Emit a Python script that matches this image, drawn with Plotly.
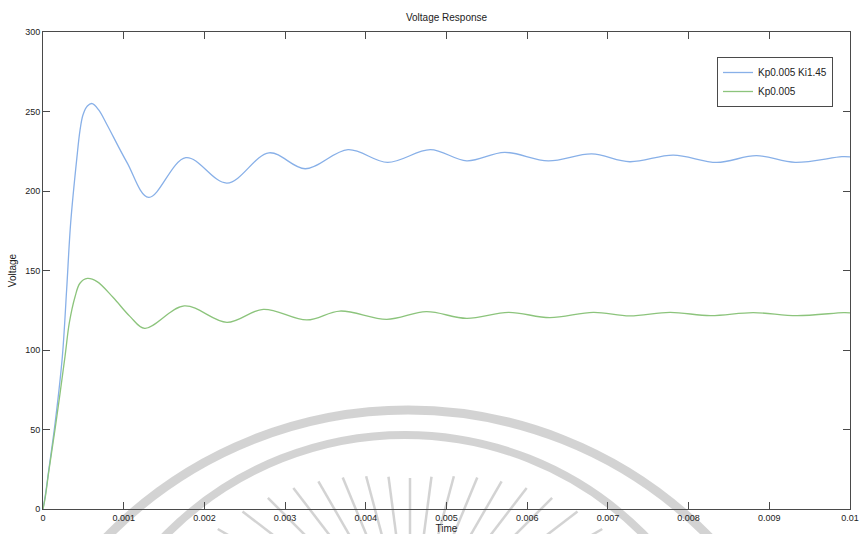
import math
import plotly.graph_objects as go

# ---- data -------------------------------------------------------------
time_pi = [0, 0.00003, 0.00007, 0.00015, 0.00024, 0.000293, 0.000343, 0.00042,
           0.000458, 0.000496, 0.00055, 0.00061, 0.00069, 0.00079,
           0.00104, 0.00131, 0.00177, 0.00228, 0.0028, 0.00325, 0.00378, 0.00427,
           0.0048, 0.00525, 0.00572, 0.00626, 0.0068, 0.00727, 0.00781, 0.00835,
           0.00884, 0.00932, 0.0099, 0.01]
volt_pi = [0, 9, 24, 54, 96, 138, 180, 221,
           238, 248, 253.5, 255, 251, 242,
           218, 196, 221, 205, 224, 214, 226, 218,
           226, 219, 224.3, 218.9, 223.3, 218.4, 222.6, 218,
           222.2, 218, 221.6, 221.5]

time_p = [0, 0.00003, 0.00007, 0.00016, 0.000273, 0.000326, 0.000397, 0.000458,
          0.00055, 0.00067, 0.00087, 0.00108, 0.00126, 0.00175, 0.00228,
          0.00273, 0.00327, 0.00368, 0.00426, 0.00475, 0.00525, 0.00577, 0.00628,
          0.00682, 0.00727, 0.00777, 0.00827, 0.0088, 0.00934, 0.00992, 0.01]
volt_p = [0, 8, 23, 54, 96, 117, 133.5, 142,
          145, 143, 133, 121, 113.6, 127.7, 117.4,
          125.6, 118.9, 124.5, 119.3, 124.1, 119.9, 123.7, 120.3,
          123.7, 121.4, 123.7, 121.6, 123.5, 121.6, 123.5, 123.4]

series_names = ["Kp0.005 Ki1.45", "Kp0.005"]

x_ticks = [0, 0.001, 0.002, 0.003, 0.004, 0.005, 0.006, 0.007, 0.008, 0.009, 0.01]
x_tick_text = ["0", "0.001", "0.002", "0.003", "0.004", "0.005", "0.006",
               "0.007", "0.008", "0.009", "0.01"]
y_ticks = [0, 50, 100, 150, 200, 250, 300]
y_tick_text = ["0", "50", "100", "150", "200", "250", "300"]

# ---- figure geometry --------------------------------------------------
W, H = 859, 534
ML, MR, MT, MB = 43, 9, 32, 25
PW, PH = W - ML - MR, H - MT - MB
FONT = "Liberation Sans, Arial, sans-serif"


def px_x(px):
    return (px - ML) / PW


def px_y(py):
    return (H - MB - py) / PH


fig = go.Figure()
fig.add_trace(go.Scatter(x=time_pi, y=volt_pi, mode="lines", name=series_names[0],
                         line=dict(color="#88b0e8", width=1.3, shape="spline")))
fig.add_trace(go.Scatter(x=time_p, y=volt_p, mode="lines", name=series_names[1],
                         line=dict(color="#8cc47c", width=1.3, shape="spline")))

# faint printed emblem behind the axes: two arcs and a fan of rays
shapes = []
wm = "rgba(200,200,200,0.8)"
for (cx, cy, r, w) in [(408, 831, 421, 9), (405, 771, 336, 8)]:
    shapes.append(dict(type="circle", xref="paper", yref="paper", layer="below",
                       x0=px_x(cx - r), x1=px_x(cx + r),
                       y0=px_y(cy + r), y1=px_y(cy - r),
                       line=dict(color=wm, width=w), fillcolor="rgba(0,0,0,0)"))
rcx, rcy = 410, 640
for k in range(-8, 9):
    ang = math.radians(7.5 * k)
    r_out = 162 + 60 * (abs(7.5 * k) / 60) ** 1.5
    r_in = 60
    shapes.append(dict(type="line", xref="paper", yref="paper", layer="below",
                       x0=px_x(rcx + r_out * math.sin(ang)), y0=px_y(rcy - r_out * math.cos(ang)),
                       x1=px_x(rcx + r_in * math.sin(ang)), y1=px_y(rcy - r_in * math.cos(ang)),
                       line=dict(color=wm, width=2.5)))

axis_common = dict(showgrid=False, zeroline=False, showline=True, linecolor="#4a4a4a",
                   linewidth=1, mirror="ticks", ticks="inside", ticklen=7,
                   tickcolor="#4a4a4a", tickwidth=1, automargin=False,
                   tickfont=dict(family=FONT, size=9, color="#222"))

fig.update_layout(
    width=W, height=H,
    margin=dict(l=ML, r=MR, t=MT, b=MB),
    paper_bgcolor="white", plot_bgcolor="rgba(0,0,0,0)",
    title=dict(text="Voltage Response", x=px_x(446.5), xref="paper", xanchor="center",
               y=1 - 17 / H, yanchor="middle",
               font=dict(family=FONT, size=10, color="#222")),
    xaxis=dict(range=[0, 0.01], tickvals=x_ticks, ticktext=x_tick_text,
               title=dict(text="Time", standoff=6, font=dict(family=FONT, size=10, color="#222")),
               **axis_common),
    yaxis=dict(range=[0, 300], tickvals=y_ticks, ticktext=y_tick_text,
               title=dict(text="Voltage", standoff=6, font=dict(family=FONT, size=10, color="#222")),
               **axis_common),
    legend=dict(x=px_x(717), y=px_y(57), xanchor="left", yanchor="top",
                bgcolor="white", bordercolor="#4a4a4a", borderwidth=1,
                font=dict(family=FONT, size=10, color="#222"),
                itemwidth=30, tracegroupgap=0),
    shapes=shapes,
    showlegend=True,
)

fig.write_html("out.html")
